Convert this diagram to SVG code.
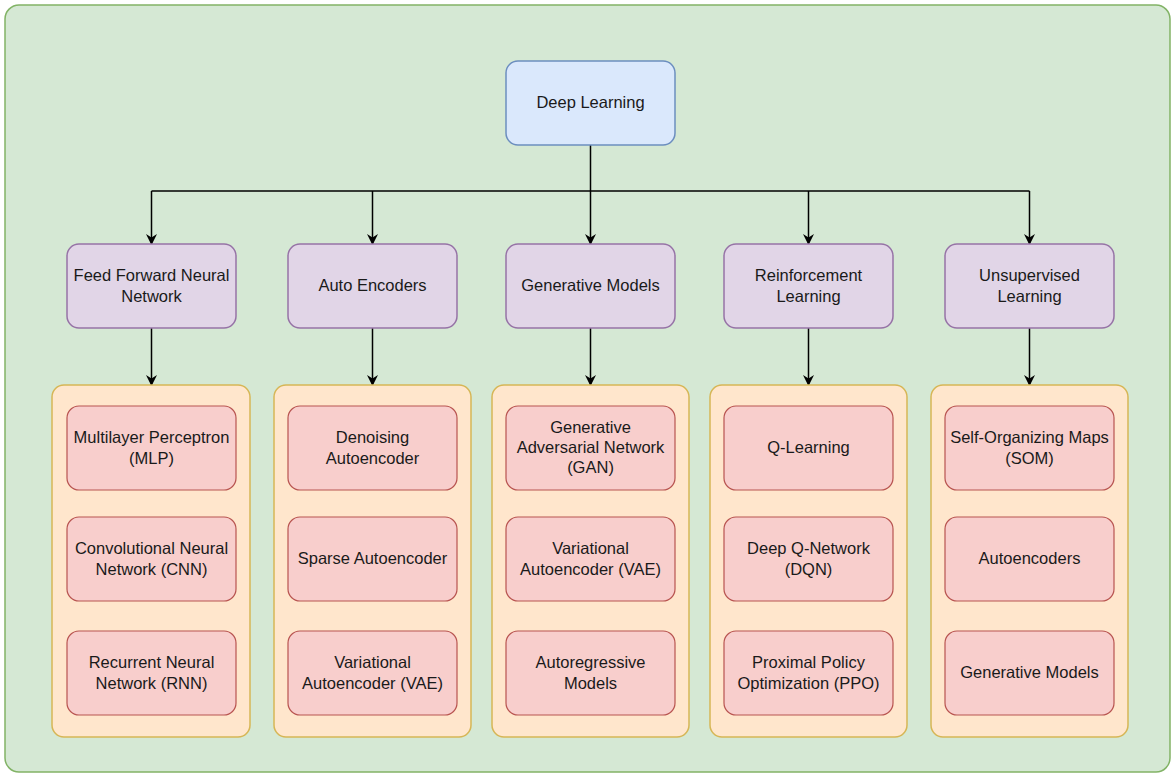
<svg xmlns="http://www.w3.org/2000/svg" width="1173" height="775" viewBox="0 0 1173 775">
<defs>
<marker id="arr" viewBox="0 0 10 10" refX="9" refY="5" markerWidth="11" markerHeight="11" markerUnits="userSpaceOnUse" orient="auto">
<path d="M0,0 L10,5 L0,10 L3,5 Z" fill="#000"/>
</marker>
<style>
.bg{fill:#d5e8d4;stroke:#82b366;stroke-width:1.5}
.root{fill:#dae8fc;stroke:#6c8ebf;stroke-width:1.5}
.cat{fill:#e1d5e7;stroke:#9673a6;stroke-width:1.5}
.grp{fill:#ffe6cc;stroke:#d6b656;stroke-width:1.5}
.leaf{fill:#f8cecc;stroke:#b85450;stroke-width:1.2}
.t{font-family:"Liberation Sans",Arial,sans-serif;font-size:16.5px;fill:#1a1a1a;text-anchor:middle}
.c{fill:none;stroke:#000;stroke-width:1.5}
</style>
</defs>
<rect class="bg" x="5" y="5" width="1165" height="767" rx="14"/>
<g id="connectors">
<path class="c" d="M590.5,145 V244" marker-end="url(#arr)"/>
<path class="c" d="M151.5,191 H1029.5"/>
<path class="c" d="M151.5,191 V244" marker-end="url(#arr)"/>
<path class="c" d="M372.5,191 V244" marker-end="url(#arr)"/>
<path class="c" d="M808.5,191 V244" marker-end="url(#arr)"/>
<path class="c" d="M1029.5,191 V244" marker-end="url(#arr)"/>
<path class="c" d="M151.5,328 V385" marker-end="url(#arr)"/>
<path class="c" d="M372.5,328 V385" marker-end="url(#arr)"/>
<path class="c" d="M590.5,328 V385" marker-end="url(#arr)"/>
<path class="c" d="M808.5,328 V385" marker-end="url(#arr)"/>
<path class="c" d="M1029.5,328 V385" marker-end="url(#arr)"/>
</g>
<g id="root"><rect class="root" x="506" y="61" width="169" height="84" rx="12"/><text class="t" x="590.5" y="108">Deep Learning</text></g>
<g id="cat-ffnn"><rect class="cat" x="67" y="244" width="169" height="84" rx="12"/><text class="t" x="151.5" y="281">Feed Forward Neural</text><text class="t" x="151.5" y="302">Network</text></g>
<g id="cat-ae"><rect class="cat" x="288" y="244" width="169" height="84" rx="12"/><text class="t" x="372.5" y="291">Auto Encoders</text></g>
<g id="cat-gen"><rect class="cat" x="506" y="244" width="169" height="84" rx="12"/><text class="t" x="590.5" y="291">Generative Models</text></g>
<g id="cat-rl"><rect class="cat" x="724" y="244" width="169" height="84" rx="12"/><text class="t" x="808.5" y="281">Reinforcement</text><text class="t" x="808.5" y="302">Learning</text></g>
<g id="cat-ul"><rect class="cat" x="945" y="244" width="169" height="84" rx="12"/><text class="t" x="1029.5" y="281">Unsupervised</text><text class="t" x="1029.5" y="302">Learning</text></g>
<g id="grp-ffnn"><rect class="grp" x="52" y="385" width="198" height="352" rx="12"/></g>
<g id="grp-ae"><rect class="grp" x="274" y="385" width="197" height="352" rx="12"/></g>
<g id="grp-gen"><rect class="grp" x="492" y="385" width="197" height="352" rx="12"/></g>
<g id="grp-rl"><rect class="grp" x="710" y="385" width="197" height="352" rx="12"/></g>
<g id="grp-ul"><rect class="grp" x="931" y="385" width="197" height="352" rx="12"/></g>
<g id="mlp"><rect class="leaf" x="67" y="406" width="169" height="84" rx="12"/><text class="t" x="151.5" y="443">Multilayer Perceptron</text><text class="t" x="151.5" y="464">(MLP)</text></g>
<g id="cnn"><rect class="leaf" x="67" y="517" width="169" height="84" rx="12"/><text class="t" x="151.5" y="554">Convolutional Neural</text><text class="t" x="151.5" y="575">Network (CNN)</text></g>
<g id="rnn"><rect class="leaf" x="67" y="631" width="169" height="84" rx="12"/><text class="t" x="151.5" y="668">Recurrent Neural</text><text class="t" x="151.5" y="689">Network (RNN)</text></g>
<g id="dae"><rect class="leaf" x="288" y="406" width="169" height="84" rx="12"/><text class="t" x="372.5" y="443">Denoising</text><text class="t" x="372.5" y="464">Autoencoder</text></g>
<g id="sae"><rect class="leaf" x="288" y="517" width="169" height="84" rx="12"/><text class="t" x="372.5" y="564">Sparse Autoencoder</text></g>
<g id="vae1"><rect class="leaf" x="288" y="631" width="169" height="84" rx="12"/><text class="t" x="372.5" y="668">Variational</text><text class="t" x="372.5" y="689">Autoencoder (VAE)</text></g>
<g id="gan"><rect class="leaf" x="506" y="406" width="169" height="84" rx="12"/><text class="t" x="590.5" y="433">Generative</text><text class="t" x="590.5" y="453">Adversarial Network</text><text class="t" x="590.5" y="473">(GAN)</text></g>
<g id="vae2"><rect class="leaf" x="506" y="517" width="169" height="84" rx="12"/><text class="t" x="590.5" y="554">Variational</text><text class="t" x="590.5" y="575">Autoencoder (VAE)</text></g>
<g id="ar"><rect class="leaf" x="506" y="631" width="169" height="84" rx="12"/><text class="t" x="590.5" y="668">Autoregressive</text><text class="t" x="590.5" y="689">Models</text></g>
<g id="ql"><rect class="leaf" x="724" y="406" width="169" height="84" rx="12"/><text class="t" x="808.5" y="453">Q-Learning</text></g>
<g id="dqn"><rect class="leaf" x="724" y="517" width="169" height="84" rx="12"/><text class="t" x="808.5" y="554">Deep Q-Network</text><text class="t" x="808.5" y="575">(DQN)</text></g>
<g id="ppo"><rect class="leaf" x="724" y="631" width="169" height="84" rx="12"/><text class="t" x="808.5" y="668">Proximal Policy</text><text class="t" x="808.5" y="689">Optimization (PPO)</text></g>
<g id="som"><rect class="leaf" x="945" y="406" width="169" height="84" rx="12"/><text class="t" x="1029.5" y="443">Self-Organizing Maps</text><text class="t" x="1029.5" y="464">(SOM)</text></g>
<g id="aes"><rect class="leaf" x="945" y="517" width="169" height="84" rx="12"/><text class="t" x="1029.5" y="564">Autoencoders</text></g>
<g id="gm"><rect class="leaf" x="945" y="631" width="169" height="84" rx="12"/><text class="t" x="1029.5" y="678">Generative Models</text></g>
</svg>
